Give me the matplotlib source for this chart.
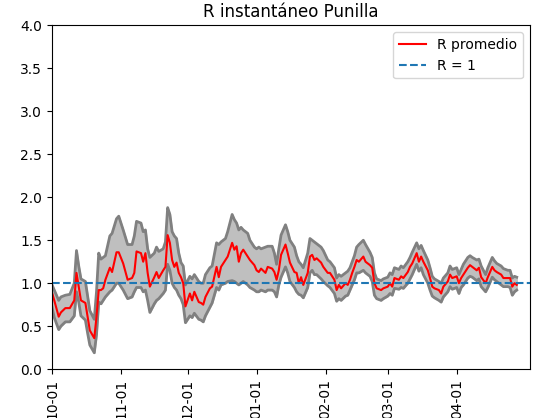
import datetime
import matplotlib
matplotlib.use("Agg")
import matplotlib.pyplot as plt
import matplotlib.dates as mdates

# days counted from 2020-10-01
days = [0, 1, 3, 4, 6, 8, 10, 11, 12, 13, 15, 16, 17, 19, 20, 21, 22, 23, 24, 26,
        27, 29, 30, 32, 34, 36, 37, 38, 40, 41, 42, 43, 44, 46, 47, 48, 50, 51, 52, 53,
        54, 55, 56, 57, 58, 59, 60, 62, 63, 64, 66, 67, 68, 69, 71, 72, 74, 75, 76, 78,
        79, 81, 82, 83, 84, 85, 86, 88, 89, 91, 92, 93, 94, 96, 97, 99, 100, 101, 102, 103,
        105, 106, 107, 109, 110, 111, 112, 113, 115, 116, 117, 118, 119, 121, 122, 124, 125, 127, 128, 129,
        130, 132, 133, 134, 135, 136, 137, 138, 140, 141, 143, 144, 145, 146, 148, 149, 151, 152, 153, 154,
        156, 157, 158, 160, 161, 162, 164, 165, 166, 167, 169, 170, 171, 172, 174, 175, 176, 178, 179, 180,
        182, 183, 184, 185, 187, 188, 189, 191, 192, 193, 195, 196, 198, 199, 200, 202, 203, 205, 206, 207,
        208, 209]

r_mean = [0.89, 0.80, 0.61, 0.66, 0.71, 0.71, 0.80, 1.12, 0.96, 0.80, 0.77, 0.61, 0.45, 0.36, 0.61, 0.92, 0.92, 0.94, 1.04, 1.18,
          1.13, 1.36, 1.36, 1.23, 1.04, 1.06, 1.12, 1.37, 1.35, 1.25, 1.35, 1.12, 0.96, 1.07, 1.13, 1.06, 1.15, 1.19, 1.56, 1.47,
          1.27, 1.19, 1.24, 1.12, 1.07, 1.00, 0.73, 0.88, 0.80, 0.90, 0.78, 0.77, 0.75, 0.84, 0.94, 0.96, 1.19, 1.07, 1.19, 1.27,
          1.31, 1.47, 1.39, 1.43, 1.25, 1.35, 1.39, 1.31, 1.27, 1.21, 1.15, 1.13, 1.17, 1.12, 1.19, 1.17, 1.13, 1.04, 1.15, 1.33,
          1.45, 1.35, 1.24, 1.13, 1.12, 1.00, 1.07, 0.98, 1.12, 1.31, 1.33, 1.27, 1.29, 1.24, 1.19, 1.12, 1.12, 1.04, 0.92, 0.98,
          0.94, 1.00, 0.98, 1.04, 1.12, 1.19, 1.27, 1.25, 1.31, 1.25, 1.21, 1.18, 1.00, 0.94, 0.92, 0.94, 0.96, 1.00, 0.96, 1.06,
          1.04, 1.08, 1.06, 1.13, 1.19, 1.23, 1.35, 1.25, 1.31, 1.25, 1.15, 1.06, 0.96, 0.94, 0.92, 0.88, 0.96, 1.02, 1.10, 1.06,
          1.08, 1.00, 1.06, 1.10, 1.18, 1.21, 1.19, 1.15, 1.18, 1.07, 1.00, 1.07, 1.19, 1.15, 1.13, 1.10, 1.06, 1.06, 1.06, 0.96,
          1.00, 0.98]

r_low = [0.72, 0.60, 0.46, 0.50, 0.55, 0.55, 0.62, 0.90, 0.78, 0.62, 0.57, 0.42, 0.28, 0.19, 0.40, 0.78, 0.76, 0.80, 0.84, 0.90,
         0.92, 1.00, 1.00, 0.92, 0.82, 0.84, 0.90, 0.95, 0.95, 0.90, 0.92, 0.80, 0.66, 0.76, 0.80, 0.82, 0.88, 0.92, 1.22, 1.15,
         1.00, 0.95, 0.92, 0.86, 0.82, 0.75, 0.54, 0.62, 0.60, 0.65, 0.58, 0.57, 0.55, 0.62, 0.72, 0.77, 0.95, 0.92, 0.98, 1.00,
         1.02, 1.03, 1.02, 1.00, 0.98, 1.00, 1.02, 0.98, 0.95, 0.92, 0.90, 0.90, 0.92, 0.90, 0.92, 0.92, 0.90, 0.84, 0.98, 1.07,
         1.19, 1.12, 1.02, 0.95, 0.90, 0.87, 0.86, 0.83, 0.95, 1.12, 1.15, 1.10, 1.10, 1.05, 1.02, 0.97, 0.95, 0.88, 0.79, 0.82,
         0.80, 0.85, 0.86, 0.92, 0.98, 1.04, 1.12, 1.12, 1.15, 1.12, 1.08, 1.02, 0.86, 0.82, 0.80, 0.82, 0.85, 0.88, 0.86, 0.94,
         0.93, 0.95, 0.94, 1.00, 1.05, 1.10, 1.22, 1.14, 1.18, 1.10, 1.00, 0.92, 0.85, 0.83, 0.80, 0.78, 0.84, 0.90, 0.96, 0.93,
         0.95, 0.88, 0.95, 0.98, 1.06, 1.08, 1.07, 1.03, 1.05, 0.96, 0.90, 0.95, 1.07, 1.04, 1.02, 0.98, 0.96, 0.96, 0.95, 0.86,
         0.90, 0.92]

r_high = [0.98, 0.92, 0.80, 0.84, 0.86, 0.87, 1.00, 1.38, 1.20, 1.05, 1.02, 0.85, 0.68, 0.58, 0.90, 1.35, 1.28, 1.30, 1.32, 1.55,
          1.58, 1.75, 1.78, 1.62, 1.45, 1.45, 1.55, 1.72, 1.70, 1.60, 1.62, 1.40, 1.30, 1.35, 1.42, 1.37, 1.40, 1.48, 1.88, 1.80,
          1.60, 1.55, 1.52, 1.35, 1.24, 1.20, 0.98, 1.08, 1.05, 1.10, 1.02, 1.00, 1.00, 1.10, 1.18, 1.20, 1.47, 1.45, 1.48, 1.52,
          1.60, 1.80, 1.74, 1.70, 1.62, 1.65, 1.62, 1.58, 1.50, 1.42, 1.40, 1.42, 1.40, 1.42, 1.43, 1.43, 1.35, 1.22, 1.40, 1.56,
          1.68, 1.60, 1.50, 1.42, 1.32, 1.25, 1.22, 1.18, 1.35, 1.52, 1.50, 1.48, 1.46, 1.42, 1.38, 1.27, 1.25, 1.18, 1.06, 1.10,
          1.08, 1.12, 1.14, 1.18, 1.25, 1.32, 1.42, 1.45, 1.50, 1.45, 1.36, 1.30, 1.12, 1.05, 1.03, 1.05, 1.07, 1.12, 1.10, 1.18,
          1.16, 1.20, 1.18, 1.25, 1.30, 1.36, 1.47, 1.40, 1.44, 1.38, 1.27, 1.18, 1.08, 1.05, 1.02, 1.00, 1.06, 1.12, 1.20, 1.16,
          1.18, 1.10, 1.16, 1.22, 1.30, 1.32, 1.30, 1.27, 1.28, 1.20, 1.10, 1.18, 1.30, 1.26, 1.23, 1.20, 1.17, 1.15, 1.15, 1.06,
          1.08, 1.07]

tick_months = [10, 11, 12, 1, 2, 3, 4]

start = datetime.datetime(2020, 10, 1)
dates = [start + datetime.timedelta(days=d) for d in days]

fig = plt.figure(figsize=(5.42, 4.18), dpi=100)
ax = fig.add_axes([0.096, 0.117, 0.882, 0.822])

ax.fill_between(dates, r_low, r_high, color='#bfbfbf')
ax.plot(dates, r_low, color='gray', linewidth=2)
ax.plot(dates, r_high, color='gray', linewidth=2)
ax.plot(dates, r_mean, 'r-', linewidth=1.5, label='R promedio')
ax.axhline(1, color='tab:blue', linestyle='--', linewidth=1.5, label='R = 1')

ax.set_ylim(0, 4)
ax.set_xlim(start, datetime.datetime(2021, 5, 4))
ax.xaxis.set_major_locator(mdates.MonthLocator(bymonth=tick_months))
ax.xaxis.set_major_formatter(mdates.DateFormatter('%m-%d'))
plt.setp(ax.get_xticklabels(), rotation=90)
ax.set_title('R instantáneo Punilla')
ax.legend(loc='upper right')

fig.savefig('out.png', dpi=100)
